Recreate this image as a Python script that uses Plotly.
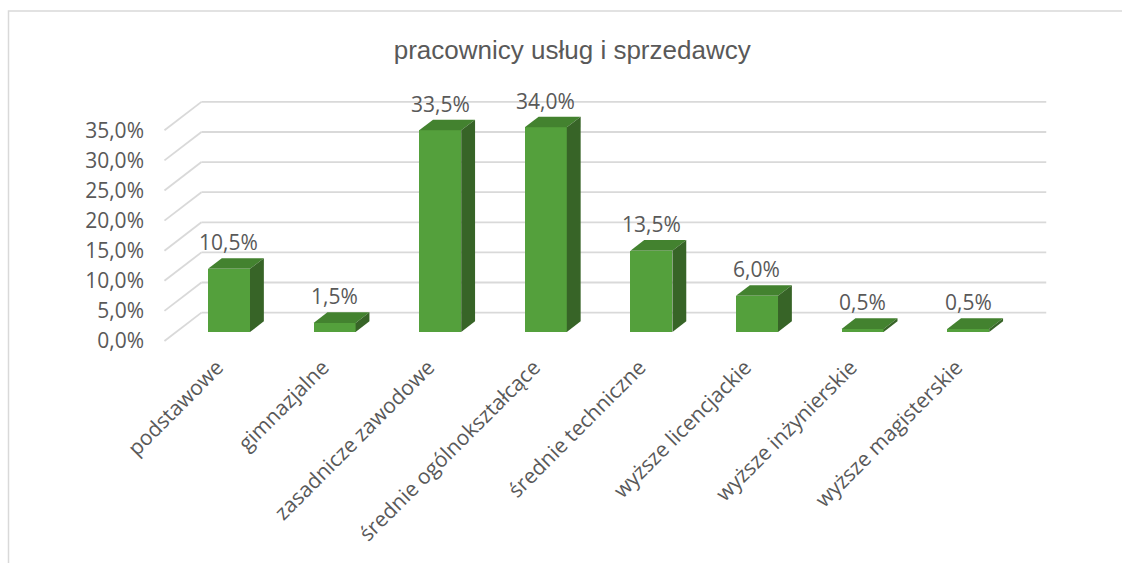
import plotly.graph_objects as go

# Education level categories and share of workers (percent)
categories = [
    "podstawowe",
    "gimnazjalne",
    "zasadnicze zawodowe",
    "średnie ogólnokształcące",
    "średnie techniczne",
    "wyższe licencjackie",
    "wyższe inżynierskie",
    "wyższe magisterskie",
]
values = [10.5, 1.5, 33.5, 34.0, 13.5, 6.0, 0.5, 0.5]
y_ticks = [0, 5, 10, 15, 20, 25, 30, 35]
y_tick_labels = ["0,0%", "5,0%", "10,0%", "15,0%", "20,0%", "25,0%", "30,0%", "35,0%"]
title_text = "pracownicy usług i sprzedawcy"

# Oblique projection of the depth axis: a point at depth z (0 = front, 1 = back wall)
# is shifted by z*KX along x (category units) and z*KY along y (percent units).
KX = 0.350
KY = 4.72
Z_FRONT = 0.317          # depth of the bar front faces
Z_BACK = 0.692           # depth of the bar back faces
BAR_W = 0.398            # bar width in category units
X_LEFT, X_RIGHT = -0.5, len(categories) - 0.5

FRONT = "#54A03C"
TOP = "#43822F"
SIDE = "#376427"
GRID = "#D9D9D9"
TEXT = "#595959"
FONT = "Open Sans"


def proj(x, y, z):
    return x + z * KX, y + z * KY


fig = go.Figure()

# Walls: diagonal floor-to-wall lines on the left, horizontal lines on the back wall
for v in y_ticks:
    x0, y0 = proj(X_LEFT, v, 0)
    x1, y1 = proj(X_LEFT, v, 1)
    x2, y2 = proj(X_RIGHT, v, 1)
    for (a, b, c, d) in [(x0, y0, x1, y1), (x1, y1, x2, y2)]:
        fig.add_shape(type="line", xref="x", yref="y", x0=a, y0=b, x1=c, y1=d,
                      line=dict(color=GRID, width=1.8), layer="below")

# Front faces of the columns
front_x = [i + Z_FRONT * KX for i in range(len(values))]
fig.add_trace(go.Bar(
    x=front_x, y=values, base=[Z_FRONT * KY] * len(values), width=BAR_W,
    marker=dict(color=FRONT, line=dict(width=0)), showlegend=False, hoverinfo="skip",
))

# Top and right side faces of each column
dz = Z_BACK - Z_FRONT
for i, v in enumerate(values):
    xl = front_x[i] - BAR_W / 2
    xr = front_x[i] + BAR_W / 2
    b = Z_FRONT * KY
    t = b + v
    dx, dy = dz * KX, dz * KY
    fig.add_trace(go.Scatter(
        x=[xl, xr, xr + dx, xl + dx, xl], y=[t, t, t + dy, t + dy, t],
        fill="toself", fillcolor=TOP, mode="lines", line=dict(width=0, color=TOP),
        hoverinfo="skip", showlegend=False,
    ))
    fig.add_trace(go.Scatter(
        x=[xr, xr + dx, xr + dx, xr, xr], y=[b, b + dy, t + dy, t, b],
        fill="toself", fillcolor=SIDE, mode="lines", line=dict(width=0, color=SIDE),
        hoverinfo="skip", showlegend=False,
    ))
    # value label above the column
    fig.add_annotation(
        x=front_x[i], y=t + dy, text=f"{v:.1f}%".replace(".", ","),
        showarrow=False, yanchor="middle", yshift=16,
        font=dict(family=FONT, size=21, color=TEXT),
    )

W, H = 1122, 563
ML, MR, MT, MB = 150, 52, 80, 213
fig.update_layout(
    width=W, height=H,
    margin=dict(l=ML, r=MR, t=MT, b=MB, autoexpand=False),
    paper_bgcolor="white", plot_bgcolor="white",
    title=dict(
        text=title_text, x=0.51, xanchor="center", y=1 - 50 / H, yanchor="middle",
        xref="container", yref="container",
        font=dict(family="Liberation Sans", size=26, color=TEXT),
    ),
    xaxis=dict(
        range=[-0.637, 8.075], showgrid=False, zeroline=False, showline=False,
        tickmode="array", tickvals=list(range(len(categories))), ticktext=categories,
        tickangle=-45, ticks="",
        tickfont=dict(family=FONT, size=21, color=TEXT),
    ),
    yaxis=dict(
        range=[-1.495, 43.355], showgrid=False, zeroline=False, showline=False,
        tickmode="array", tickvals=y_ticks, ticktext=y_tick_labels, ticks="",
        ticklabelstandoff=5,
        tickfont=dict(family=FONT, size=21, color=TEXT),
    ),
    bargap=0,
    showlegend=False,
)

# Outer chart frame (top and left edges visible)
pw = W - ML - MR
ph = H - MT - MB


def px_to_paper_x(p):
    return (p - ML) / pw


def px_to_paper_y(p):
    return (H - MB - p) / ph


fig.add_shape(
    type="rect", xref="paper", yref="paper",
    x0=px_to_paper_x(8.5), x1=px_to_paper_x(W + 20),
    y0=px_to_paper_y(H + 20), y1=px_to_paper_y(11),
    line=dict(color=GRID, width=1.5), fillcolor="rgba(0,0,0,0)", layer="below",
)

fig.write_html("out.html")
